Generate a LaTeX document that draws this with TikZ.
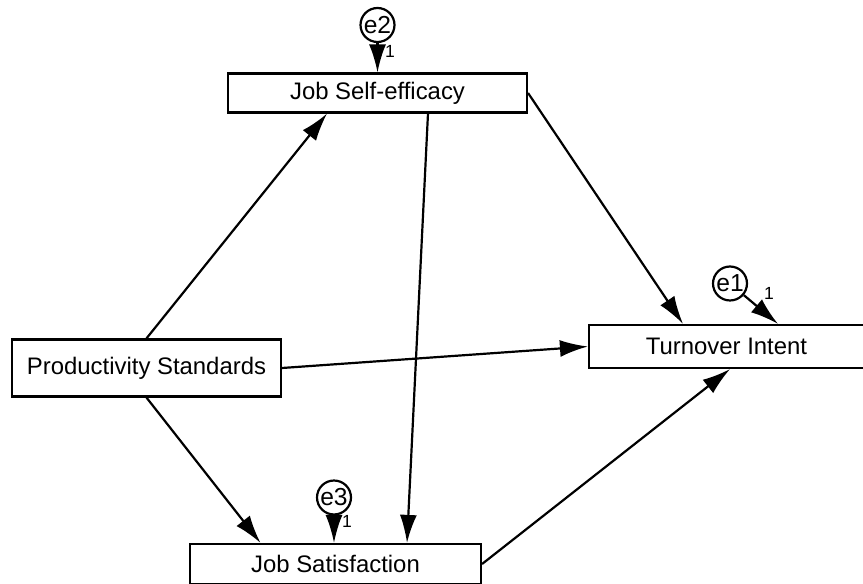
\documentclass[tikz,border=0pt]{standalone}
\usepackage{fontspec}
\setmainfont{Liberation Sans}
\usetikzlibrary{arrows.meta}

\begin{document}
\begin{tikzpicture}[
		x=0.02cm, y=-0.02cm,
		box/.style={draw, rectangle, line width=1.25pt, inner sep=0pt, font=\fontsize{13.6}{16}\selectfont},
		err/.style={draw, circle, line width=1.25pt, inner sep=0pt, minimum size=0.68cm, font=\fontsize{14}{16}\selectfont},
		mylabel/.style={inner sep=0pt, font=\fontsize{10}{12}\selectfont},
		>={Latex[length=5.6mm, width=3.4mm]},
		every path/.style={line width=1.25pt}
		]
		\useasboundingbox[fill=white] (0,0) rectangle (863,584);
		
		\node[box, minimum width=5.98cm, minimum height=0.78cm] (jse) at (377.5, 93) {Job Self-efficacy};
		\node[box, minimum width=5.38cm, minimum height=1.14cm] (prod) at (146.5, 368) {Productivity Standards};
		\node[box, minimum width=5.5cm, minimum height=0.86cm] (ti) at (726.5, 346.5) {Turnover Intent};
		\node[box, minimum width=5.82cm, minimum height=0.8cm] (js) at (335.5, 564) {Job Satisfaction};
		
		\node[err] (e2) at (377.5, 25) {e2};
		\node[err] (e1) at (730, 283.5) {e1};
		\node[err] (e3) at (334, 497.5) {e3};
		
		\node[mylabel] (w2) at (390, 51) {1};
		\node[mylabel] (w1) at (769, 293) {1};
		\node[mylabel] (w3) at (347, 521) {1};
		
		\draw[->] (e2) to (jse.north);
		\draw[->] (e1) to ([xshift=1.03cm]ti.north);
		\draw[->] (e3) to (e3 |- js.north);
		
		\draw[->] (prod.north) to ([xshift=-1.01cm]jse.south);
		\draw[->] (prod.east) to (ti.west);
		\draw[->] (prod.south) to ([xshift=-1.5cm]js.north);
		\draw[->] ([xshift=1.01cm]jse.south) to ([xshift=1.43cm]js.north);
		\draw[->] (jse.east) to ([xshift=-0.87cm]ti.north);
		\draw[->] (js.east) to ([xshift=0.07cm]ti.south);
		
		\end{tikzpicture}
\end{document}
